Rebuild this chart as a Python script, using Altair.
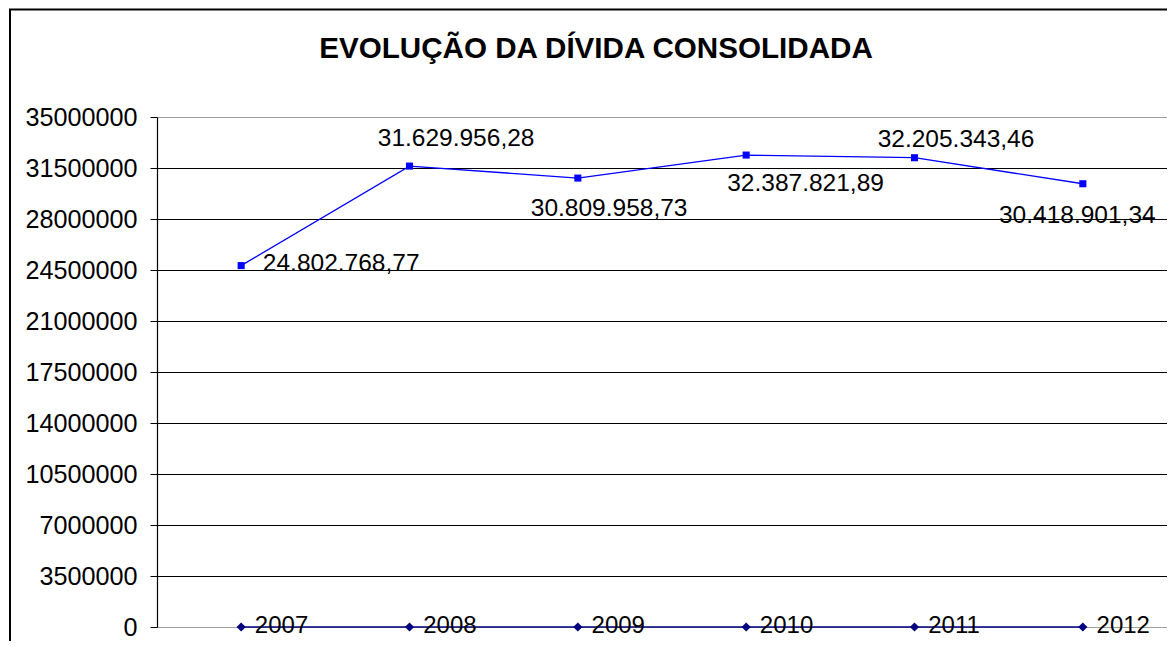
import altair as alt
import pandas as pd

# ---- data ----
anos = ["2007", "2008", "2009", "2010", "2011", "2012"]
divida = [24802768.77, 31629956.28, 30809958.73, 32387821.89, 32205343.46, 30418901.34]
serie_base = [0, 0, 0, 0, 0, 0]
y_ticks = [0, 3500000, 7000000, 10500000, 14000000, 17500000, 21000000,
           24500000, 28000000, 31500000, 35000000]
titulo = "EVOLUÇÃO DA DÍVIDA CONSOLIDADA"


def brl(v):
    s = f"{v:,.2f}"
    return s.replace(",", "X").replace(".", ",").replace("X", ".")


df = pd.DataFrame({"ano": anos, "valor": divida, "rotulo": [brl(v) for v in divida]})
df0 = pd.DataFrame({"ano": anos, "valor": serie_base})

FONT = "Liberation Sans"
W, H = 1010, 510

x_enc = alt.X("ano:N", sort=anos, scale=alt.Scale(type="point", padding=0.5), axis=None)
y_scale = alt.Scale(domain=[0, 35000000])

grid_color = {
    "condition": {"test": "datum.value === 0 || datum.value === 35000000", "value": "#a0a0a0"},
    "value": "#000000",
}

y_axis = alt.Axis(
    values=y_ticks, format="d", title=None,
    labelFont=FONT, labelFontSize=25.2, labelColor="black", labelPadding=13,
    tickColor="black", tickSize=7, tickWidth=1,
    domainColor="black", domainWidth=1.2,
    grid=True, gridColor=grid_color, gridWidth=1,
)

one = pd.DataFrame({"k": [0]})

# outer chart frame
frame = alt.Chart(one).mark_rect(
    fill=None, stroke="black", strokeWidth=2
).encode(
    x=alt.value(-147), x2=alt.value(W + 40),
    y=alt.value(-107.5), y2=alt.value(H + 60),
)

# chart title (as in the spreadsheet chart, centred on the whole chart)
title_mark = alt.Chart(one).mark_text(
    text=titulo, font=FONT, fontSize=29.6, fontWeight="bold", color="black",
    align="center", baseline="middle",
).encode(x=alt.value(439), y=alt.value(-68))

base = alt.Chart(df)

linha = base.mark_line(color="#0000FF", strokeWidth=1.3).encode(
    x=x_enc, y=alt.Y("valor:Q", scale=y_scale, axis=y_axis)
)
pontos = base.mark_point(shape="square", size=50, filled=True, color="#0000FF", opacity=1).encode(
    x=x_enc, y=alt.Y("valor:Q", scale=y_scale)
)

base0 = alt.Chart(df0)
linha0 = base0.mark_line(color="#000080", strokeWidth=1.5).encode(
    x=x_enc, y=alt.Y("valor:Q", scale=y_scale)
)
pontos0 = base0.mark_point(shape="diamond", size=85, filled=True, color="#000080", opacity=1).encode(
    x=x_enc, y=alt.Y("valor:Q", scale=y_scale)
)
rot_anos = base0.mark_text(
    align="left", baseline="middle", dx=13.7, dy=-1,
    font=FONT, fontSize=24, color="black"
).encode(x=x_enc, y=alt.Y("valor:Q", scale=y_scale), text="ano:N")

# data label offsets (as placed in the reference)
offsets = [(100, -2), (46.6, -27.4), (31.3, 30.6), (59.4, 29.2), (41.5, -17.7), (-5.5, 31.9)]
rotulos = []
for ano, (ddx, ddy) in zip(anos, offsets):
    rotulos.append(
        base.transform_filter(alt.datum.ano == ano).mark_text(
            align="center", baseline="middle", dx=ddx, dy=ddy,
            font=FONT, fontSize=24.5, color="black"
        ).encode(x=x_enc, y=alt.Y("valor:Q", scale=y_scale), text="rotulo:N")
    )

chart = alt.layer(
    frame, title_mark, linha0, pontos0, linha, pontos, rot_anos, *rotulos
).properties(
    width=W, height=H,
    autosize=alt.AutoSizeParams(type="none"),
    padding={"left": 149, "top": 109, "right": 0, "bottom": 14},
).configure_view(
    stroke="#a0a0a0", strokeWidth=2
).configure(background="white")

chart.save("out.html", embed_options={"renderer": "svg", "actions": False})
